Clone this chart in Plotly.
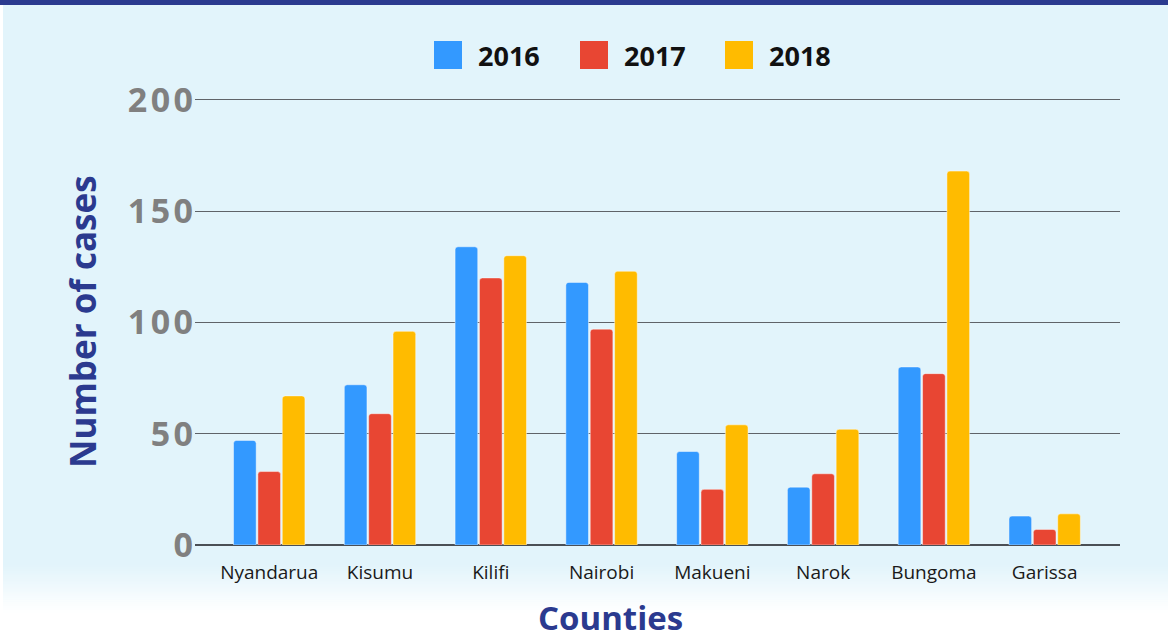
import plotly.graph_objects as go

counties = ["Nyandarua", "Kisumu", "Kilifi", "Nairobi", "Makueni", "Narok", "Bungoma", "Garissa"]
years = ["2016", "2017", "2018"]
cases_2016 = [47, 72, 134, 118, 42, 26, 80, 13]
cases_2017 = [33, 59, 120, 97, 25, 32, 77, 7]
cases_2018 = [67, 96, 130, 123, 54, 52, 168, 14]
series = [cases_2016, cases_2017, cases_2018]
colors = ["#3399ff", "#e84633", "#ffbb00"]
y_ticks = [0, 50, 100, 150, 200]
y_ticklabels = ["0", "50", "100", "150", "200"]

W, H = 1168, 641
L, R, T, B = 195, 48, 91, 96
PW, PH = W - L - R, H - T - B


def px(x):
    return (x - L) / PW


def py(y):
    return (H - B - y) / PH


fig = go.Figure()
for name, vals, col in zip(years, series, colors):
    fig.add_trace(go.Bar(
        x=counties, y=vals, name=name,
        marker=dict(color=col, line=dict(color="rgba(255,255,255,0.45)", width=1)),
        showlegend=False,
    ))

shapes = []
shapes.append(dict(type="rect", xref="paper", yref="paper", x0=px(0), x1=px(W), y0=py(0), y1=py(565),
                   fillcolor="#e2f4fb", line=dict(width=0), layer="below"))
n = 24
g0, g1 = 565, 612
c0 = (0xe2, 0xf4, 0xfb)
for i in range(n):
    ya = g0 + (g1 - g0) * i / n
    yb = g0 + (g1 - g0) * (i + 1) / n
    t = (i + 0.5) / n
    c = tuple(int(round(c0[k] + (255 - c0[k]) * t)) for k in range(3))
    shapes.append(dict(type="rect", xref="paper", yref="paper", x0=px(0), x1=px(W), y0=py(ya), y1=py(yb + 0.5),
                       fillcolor="rgb(%d,%d,%d)" % c, line=dict(width=0), layer="below"))
shapes.append(dict(type="rect", xref="paper", yref="paper", x0=px(0), x1=px(3), y0=py(0), y1=py(H),
                   fillcolor="white", line=dict(width=0), layer="below"))
shapes.append(dict(type="rect", xref="paper", yref="paper", x0=px(0), x1=px(W), y0=py(0), y1=py(5),
                   fillcolor="#2b3a8f", line=dict(width=0), layer="above"))

annotations = []
leg_sq = [434, 580, 725]
for name, col, x0 in zip(years, colors, leg_sq):
    shapes.append(dict(type="rect", xref="paper", yref="paper", x0=px(x0), x1=px(x0 + 28), y0=py(69), y1=py(41),
                       fillcolor=col, line=dict(width=0)))
    annotations.append(dict(text="<b>%s</b>" % name, xref="paper", yref="paper", x=px(x0 + 42), y=py(55),
                            xanchor="left", yanchor="middle", showarrow=False,
                            font=dict(family="Open Sans", size=27, color="#111111")))

annotations.append(dict(text="<b>Number of cases</b>", xref="paper", yref="paper", x=px(82), y=py(322),
                        textangle=-90, showarrow=False, xanchor="center", yanchor="middle",
                        font=dict(family="Open Sans", size=35, color="#2b3a8f")))
annotations.append(dict(text="<b>Counties</b>", xref="paper", yref="paper", x=px(610), y=py(617),
                        showarrow=False, xanchor="center", yanchor="middle",
                        font=dict(family="Open Sans", size=33, color="#2b3a8f")))

hair = "\u200a"
y_ticktext = [hair.join(list(s)) for s in y_ticklabels]

fig.update_layout(
    width=W, height=H,
    margin=dict(l=L, r=R, t=T, b=B, autoexpand=False),
    paper_bgcolor="white",
    plot_bgcolor="rgba(0,0,0,0)",
    barmode="group",
    bargap=0.34,
    bargroupgap=0.07,
    barcornerradius=3,
    shapes=shapes,
    annotations=annotations,
    xaxis=dict(range=[-0.67, 7.68], showgrid=False, showline=False, zeroline=False, ticks="",
               ticklabelstandoff=14,
               tickfont=dict(family="Open Sans", size=19, color="#1a1a1a"), automargin=False),
    yaxis=dict(range=[0, 204], tickvals=y_ticks, ticktext=y_ticktext, showgrid=True,
               gridcolor="#5f6368", gridwidth=1, zeroline=True, zerolinecolor="#4a4f55", zerolinewidth=2,
               showline=False, ticks="", ticklabelstandoff=1,
               tickfont=dict(family="Open Sans", size=34, color="#808080", weight="bold"), automargin=False),
)

fig.write_html("out.html", config={"displayModeBar": False},
               post_script="document.body.style.margin='0';document.body.style.padding='0';")
